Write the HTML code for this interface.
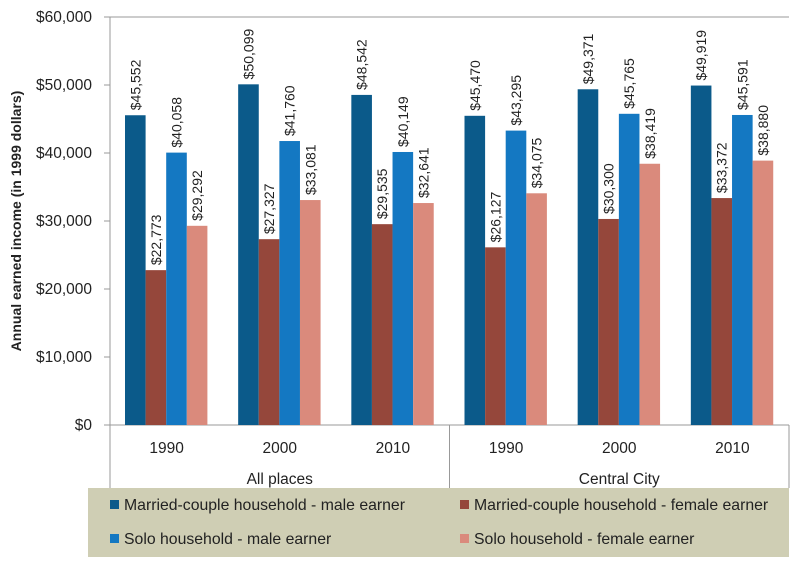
<!DOCTYPE html>
<html><head><meta charset="utf-8"><style>
body{margin:0;background:#fff;font-family:"Liberation Sans",sans-serif}
svg{display:block}
</style></head><body>
<svg id="c" width="797" height="562" xmlns="http://www.w3.org/2000/svg" font-family="Liberation Sans, sans-serif"></svg>
<script>
const years=["1990","2000","2010","1990","2000","2010"];
const places=["All places","Central City"];
const seriesNames=["Married-couple household - male earner","Married-couple household - female earner","Solo household - male earner","Solo household - female earner"];
const marriedMale=[45552,50099,48542,45470,49371,49919];
const marriedFemale=[22773,27327,29535,26127,30300,33372];
const soloMale=[40058,41760,40149,43295,45765,45591];
const soloFemale=[29292,33081,32641,34075,38419,38880];
const yTicks=[0,10000,20000,30000,40000,50000,60000];
const colors=["#0b5a8a","#95473b","#1478c2","#da8a7c"];
const series=[marriedMale,marriedFemale,soloMale,soloFemale];
const NS="http://www.w3.org/2000/svg";
const svg=document.getElementById('c');
const L=110,R=789,T=17,B=425;
const y=v=>B-(v/60000)*(B-T);
const pitch=(R-L)/6;
const bw=20.6;
const x0=i=>L+15+i*pitch;
function mk(t,a,txt){const e=document.createElementNS(NS,t);for(const k in a)e.setAttribute(k,a[k]);if(txt!=null)e.textContent=txt;svg.appendChild(e);return e;}
const fmt=v=>"$"+v.toLocaleString("en-US");
let e=mk('line',{x1:L,y1:T,x2:R,y2:T,stroke:'#999'});


e=mk('line',{x1:L,y1:T,x2:L,y2:488,stroke:'#999'});


e=mk('line',{x1:L,y1:B,x2:R,y2:B,stroke:'#999'});


e=mk('line',{x1:(L+R)/2,y1:B,x2:(L+R)/2,y2:488,stroke:'#999'});


e=mk('line',{x1:R,y1:B,x2:R,y2:488,stroke:'#999'});


yTicks.forEach(v=>{
 let t=mk('line',{x1:L-6,y1:y(v),x2:L,y2:y(v),stroke:'#999'});
 
 
 let l=mk('text',{x:L-18,y:y(v)+5,'text-anchor':'end','font-size':15.5,fill:'#222'},fmt(v));
 
 
});
e=mk('text',{transform:'translate(21,221) rotate(-90)','text-anchor':'middle','font-size':14,'font-weight':'bold',fill:'#222'},"Annual earned income  (in 1999 dollars)");


years.forEach((yr,i)=>{
 let t=mk('text',{x:L+pitch*(i+0.5),y:453,'text-anchor':'middle','font-size':15.5,fill:'#222'},yr);
 
 
 series.forEach((s,j)=>{
  const bx=x0(i)+j*bw;
  let r=mk('rect',{x:bx,y:y(s[i]),width:bw,height:B-y(s[i]),fill:colors[j]});
  
  
  const cx=bx+bw/2+5, cy=y(s[i])-5;
  let l=mk('text',{transform:`translate(${cx},${cy}) rotate(-90)`,'font-size':14,fill:'#222'},fmt(s[i]));
  
  
 });
});
places.forEach((p,i)=>{
 let t=mk('text',{x:L+(R-L)/4*(2*i+1),y:484,'text-anchor':'middle','font-size':15.5,fill:'#222'},p);
 
 
});
e=mk('rect',{x:88,y:488,width:701,height:69,fill:'#cfceb4'});


seriesNames.forEach((n,j)=>{
 const lx=j%2?462:112, ly=j<2?505:539;
 let s=mk('rect',{x:lx-2,y:ly-5,width:9,height:9,fill:colors[j]});
 
 
 let t=mk('text',{x:lx+12,y:ly+5,'font-size':15.8,fill:'#222'},n);
 
 
});
</script>
</body></html>
